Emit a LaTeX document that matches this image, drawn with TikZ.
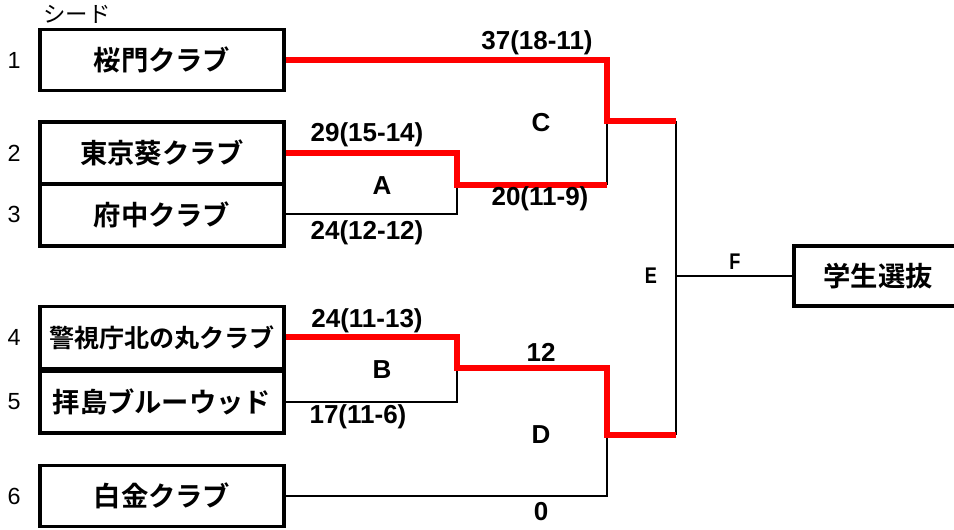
\documentclass[tikz,border=0pt]{standalone}
\usepackage{fontspec}
\setmainfont{Liberation Sans}
\newfontfamily\jpb{Noto Sans CJK JP Bold}
\newfontfamily\jp{Noto Sans CJK JP}
\begin{document}
\begin{tikzpicture}[x=0.75pt,y=-0.75pt,
  team/.style={draw=black,line width=2.4pt,minimum width=183pt,minimum height=45.75pt,inner sep=0pt,font=\jpb\fontsize{20.5}{22}\selectfont},
  teamhalf/.style={draw=black,line width=2.4pt,minimum width=183pt,minimum height=46.5pt,inner sep=0pt,font=\jpb\fontsize{20.5}{22}\selectfont},
  seed/.style={font=\fontsize{17.5}{19}\selectfont},
  score/.style={font=\bfseries\fontsize{19.5}{21}\selectfont,inner sep=0pt},
  small/.style={font=\bfseries\fontsize{17}{19}\selectfont,inner sep=0pt,xscale=0.8},
  blk/.style={draw=black,line width=2.2pt},
  win/.style={draw=red,line width=4pt}]
\useasboundingbox (0,0) rectangle (954,529);
% teams
\node[team] (t1) at (162,60) {桜門クラブ};
\node[teamhalf] (t2) at (162,153) {東京葵クラブ};
\node[teamhalf] (t3) at (162,215) {府中クラブ};
\node[teamhalf,font=\jpb\fontsize{18.8}{20}\selectfont] (t4) at (162,337.5) {警視庁北の丸クラブ};
\node[teamhalf] (t5) at (162,402) {拝島ブルーウッド};
\node[team] (t6) at (162,496) {白金クラブ};
\node[inner sep=0pt,font=\jpb\fontsize{20.5}{22}\selectfont] (t7) at (878,276) {学生選抜};
\draw[line width=2.4pt] (960,246) -- (794,246) -- (794,306) -- (960,306);
% seed numbers
\node[seed] (n1) at (14,60) {1};
\node[seed] (n2) at (14,153) {2};
\node[seed] (n3) at (14,214) {3};
\node[seed] (n4) at (14,337) {4};
\node[seed] (n5) at (14,402) {5};
\node[seed] (n6) at (14,496) {6};
\node[font=\jp\fontsize{16.8}{18}\selectfont,anchor=west,inner sep=0pt] (sd) at (43,14) {シード};
% coordinates
\coordinate (a1) at (457,153);
\coordinate (a2) at (457,185);
\coordinate (a3) at (457,214);
\coordinate (c1) at (607,60);
\coordinate (c2) at (607,121);
\coordinate (c3) at (607,185);
\coordinate (b1) at (457,337);
\coordinate (b2) at (457,368);
\coordinate (b3) at (457,402);
\coordinate (d1) at (607,368);
\coordinate (d2) at (607,435);
\coordinate (d3) at (607,496);
\coordinate (e1) at (676,121);
\coordinate (e2) at (676,276);
\coordinate (e3) at (676,435);
% black lines
\draw[blk] (t3.east |- a3) -- (a3) -- (a2);
\draw[blk] (c2) -- (c3);
\draw[blk] (t5.east |- b3) -- (b3) -- (b2);
\draw[blk] (t6.east |- d3) -- (d3) -- (d2);
\draw[blk] (e1) -- (e3);
\draw[blk] (e2) -- (t7.west -| 794,276);
% red lines
\draw[win] (t1.east |- c1) -- (c1) -- (c2) -- (e1);
\draw[win] (t2.east |- a1) -- (a1) -- (a2) -- (c3);
\draw[win] (t4.east |- b1) -- (b1) -- (b2) -- (d1) -- (d2) -- (e3);
% labels
\node[score] (l1) at (537,43) {37(18-11)};
\node[score] (l2) at (367,135) {29(15-14)};
\node[score] (l3) at (382,186) {A};
\node[score] (l4) at (367,233) {24(12-12)};
\node[score] (l5) at (541,123) {C};
\node[score] (l6) at (540,199) {20(11-9)};
\node[score] (l7) at (367,321) {24(11-13)};
\node[score] (l8) at (382,370) {B};
\node[score] (l9) at (358,417) {17(11-6)};
\node[score] (l10) at (541,352) {12};
\node[score] (l11) at (541,435) {D};
\node[score] (l12) at (541,512) {0};
\node[small] (l13) at (651,276) {E};
\node[small] (l14) at (735,262) {F};
\end{tikzpicture}
\end{document}
